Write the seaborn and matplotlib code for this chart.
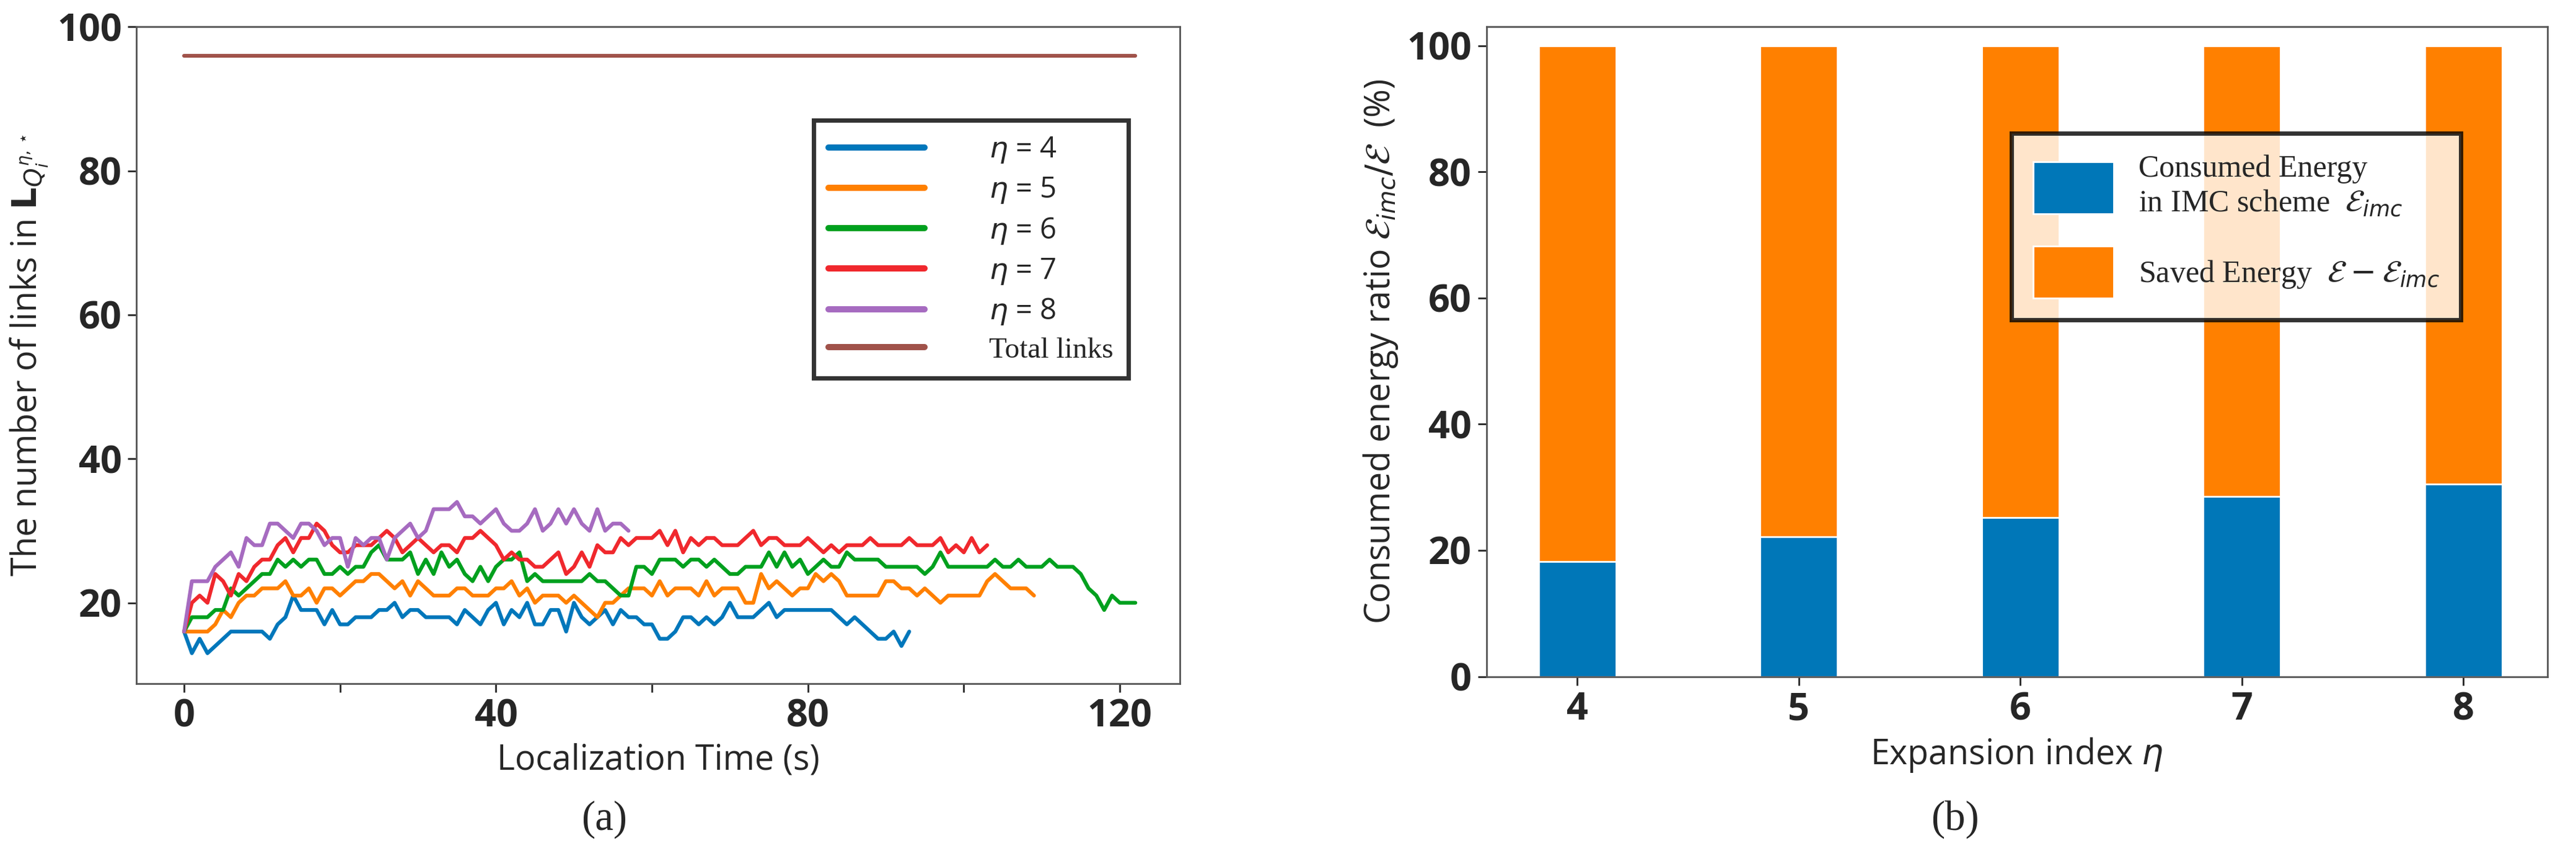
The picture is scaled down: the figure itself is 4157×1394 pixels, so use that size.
import numpy as np
import pandas as pd
import matplotlib
matplotlib.use("Agg")
import matplotlib.pyplot as plt
import seaborn as sns

sns.set_style("white")
plt.rcParams['font.family'] = ['Open Sans', 'DejaVu Sans']
plt.rcParams['mathtext.fontset'] = 'dejavusans'

eta4 = [16,13,15,13,14,15,16,16,16,16,16,15,17,18,21,19,19,19,17,19,17,17,18,18,18,19,19,20,18,19,
        19,18,18,18,18,17,19,18,17,19,20,17,19,18,20,17,17,19,19,16,
        20,18,17,18,19,17,19,18,18,17,17,15,15,16,18,18,17,18,17,18,20,18,18,18,19,20,18,19,19,19,
        19,19,19,19,18,17,18,17,16,15,15,16,14,16]
eta5 = [16,16,16,16,17,19,18,20,21,21,22,22,22,23,21,21,22,20,22,22,21,22,23,23,24,24,23,22,23,21,
        23,22,21,21,21,22,22,21,21,21,22,22,23,21,22,20,21,21,21,20,
        21,20,19,18,20,20,21,22,22,22,21,23,21,22,22,22,21,23,21,22,22,22,20,20,24,22,23,22,21,22,
        22,24,23,24,23,21,21,21,21,21,23,23,22,22,21,22,21,20,21,21,21,21,21,23,24,23,22,22,22,21]
eta6 = [16,18,18,18,19,19,22,21,22,23,24,24,26,25,26,25,26,26,24,24,25,24,25,25,27,28,26,26,26,27,
        24,26,24,27,25,26,24,23,25,23,25,26,26,27,23,24,23,23,23,23,
        23,23,24,23,23,22,21,21,25,25,24,26,26,26,25,26,26,25,26,25,24,24,25,25,25,27,25,27,25,26,
        24,25,26,25,25,27,26,26,26,26,25,25,25,25,25,24,25,27,25,25,25,25,25,25,26,25,25,26,25,25,
        25,26,25,25,25,24,22,21,19,21,20,20,20]
eta7 = [16,20,21,20,24,23,21,24,23,25,26,26,28,29,27,29,29,31,30,28,27,27,28,28,28,29,30,29,27,28,
        29,28,27,28,28,27,29,29,30,29,28,26,27,26,26,25,25,26,27,24,
        25,27,25,28,27,27,29,28,29,29,29,30,28,30,27,29,28,29,29,28,28,28,29,30,28,29,29,28,28,28,
        29,28,27,28,27,28,28,28,29,28,28,28,28,29,28,28,28,29,27,28,27,29,27,28]
eta8 = [16,23,23,23,25,26,27,25,29,28,28,31,31,30,29,31,31,30,28,29,29,25,29,28,29,29,26,29,30,31,
        29,30,33,33,33,34,32,32,31,32,33,31,30,30,31,33,30,31,33,31,
        33,31,30,33,30,31,31,30]
total_links = 96
series_labels = [r"$\eta$ = 4", r"$\eta$ = 5", r"$\eta$ = 6", r"$\eta$ = 7", r"$\eta$ = 8"]
colors = ["#0077BB", "#FF8000", "#00A01E", "#F0282D", "#A66BC0"]
total_color = "#A0524A"

expansion = ["4", "5", "6", "7", "8"]
consumed = [18.2, 22.2, 25.2, 28.5, 30.5]
saved = [81.8, 77.8, 74.8, 71.5, 69.5]

rows = []
for lab, vals in zip(series_labels, [eta4, eta5, eta6, eta7, eta8]):
    for t, v in enumerate(vals):
        rows.append((t, v, lab))
df = pd.DataFrame(rows, columns=["t", "links", "series"])
tmax = max(len(s) for s in [eta4, eta5, eta6, eta7, eta8]) - 1
df_total = pd.DataFrame({"t": [0, tmax], "links": [total_links, total_links]})

fig = plt.figure(figsize=(20.785, 6.97), dpi=200)
ax1 = fig.add_axes([0.053, 0.209, 0.405, 0.760])
ax2 = fig.add_axes([0.577, 0.217, 0.412, 0.752])

sns.lineplot(data=df, x="t", y="links", hue="series", palette=colors, lw=2.2, ax=ax1, legend=False)
sns.lineplot(data=df_total, x="t", y="links", color=total_color, lw=2.2, ax=ax1)
ax1.set_xlim(-6.1, 127.7)
ax1.set_ylim(8.8, 100)
ax1.set_xticks([0, 40, 80, 120])
ax1.set_xticks([20, 60, 100], minor=True)
ax1.set_yticks([20, 40, 60, 80, 100])
ax1.tick_params(which="both", direction="out", length=5, width=1, bottom=True, left=True)
for lab in ax1.get_xticklabels() + ax1.get_yticklabels():
    lab.set_fontweight("bold"); lab.set_fontsize(22)
ax1.set_xlabel("Localization Time (s)", fontsize=20)
ax1.set_ylabel(r"The number of links in $\boldsymbol{L}_{\boldsymbol{Q}_i}^{\eta,\star}$", fontsize=20) if False else \
    ax1.set_ylabel(r"The number of links in $\mathbf{L}_{Q_i^{\eta,\star}}$", fontsize=20)
for s in ax1.spines.values():
    s.set_color("#555555"); s.set_linewidth(1)

from matplotlib.lines import Line2D
handles = [Line2D([], [], color=c, lw=3.6) for c in colors] + [Line2D([], [], color=total_color, lw=3.6)]
labels = series_labels + ["Total links"]
leg = ax1.legend(handles, labels, loc="upper left", bbox_to_anchor=(0.635, 0.88), fontsize=17,
                 handlelength=3.3, handletextpad=2.2, labelspacing=0.35, frameon=True,
                 fancybox=False, borderpad=0.5)
leg.get_frame().set_edgecolor("black"); leg.get_frame().set_linewidth(2.5)
for txt in leg.get_texts()[-1:]:
    txt.set_family("Liberation Serif")

bar_df = pd.DataFrame({"eta": expansion, "consumed": consumed,
                       "total": [c + s for c, s in zip(consumed, saved)]})
sns.barplot(data=bar_df, x="eta", y="total", color="#FF8000", width=0.35, ax=ax2,
            saturation=1, label=r"Saved Energy  $\mathcal{E}-\mathcal{E}_{imc}$")
sns.barplot(data=bar_df, x="eta", y="consumed", color="#0077B8", width=0.35, ax=ax2,
            saturation=1, label="Consumed Energy\nin IMC scheme  " + r"$\mathcal{E}_{imc}$")
ax2.set_xlim(-0.41, 4.38)
ax2.set_ylim(0, 103)
ax2.set_yticks([0, 20, 40, 60, 80, 100])
ax2.tick_params(direction="out", length=5, width=1, bottom=True, left=True)
for lab in ax2.get_xticklabels() + ax2.get_yticklabels():
    lab.set_fontweight("bold"); lab.set_fontsize(22)
ax2.set_xlabel(r"Expansion index $\eta$", fontsize=20)
ax2.set_ylabel(r"Consumed energy ratio $\mathcal{E}_{imc}/\mathcal{E}$  (%)", fontsize=20)
for s in ax2.spines.values():
    s.set_color("#555555"); s.set_linewidth(1)
h, l = ax2.get_legend_handles_labels()
leg2 = ax2.legend(h[::-1], l[::-1], loc="upper left", bbox_to_anchor=(0.48, 0.86), fontsize=18,
                  handlelength=2.6, handleheight=2.2, handletextpad=0.8, labelspacing=0.9,
                  frameon=True, fancybox=False, borderpad=0.7, prop={"family": "Liberation Serif", "size": 18})
leg2.get_frame().set_edgecolor("black"); leg2.get_frame().set_linewidth(2.5)

fig.text(0.2345, 0.04, "(a)", fontsize=24, ha="center", family="Liberation Serif")
fig.text(0.759, 0.04, "(b)", fontsize=24, ha="center", family="Liberation Serif")
fig.savefig("out.png", dpi=200)
